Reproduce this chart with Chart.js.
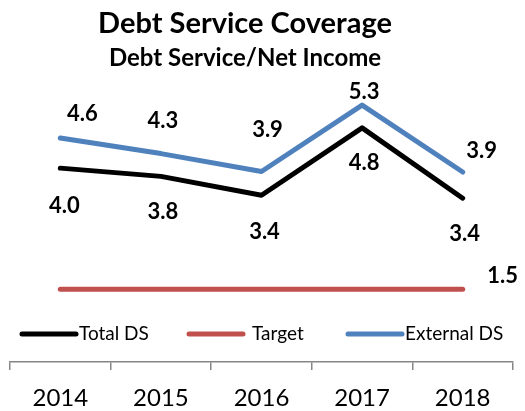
<!DOCTYPE html>
<html>
<head>
<meta charset="utf-8">
<script src="https://cdn.jsdelivr.net/npm/chart.js@4.4.1/dist/chart.umd.min.js"></script>
<style>
  html, body { margin: 0; padding: 0; background: #fff; }
  #wrap { width: 525px; height: 411px; }
</style>
</head>
<body>
<div id="wrap"><canvas id="chart"></canvas></div>
<script>
const years = ["2014", "2015", "2016", "2017", "2018"];
const totalDS = [4.0, 3.83, 3.44, 4.83, 3.38];
const targetDS = [1.5, 1.5, 1.5, 1.5, 1.5];
const externalDS = [4.62, 4.3, 3.93, 5.3, 3.92];

const chartTitle = "Debt Service Coverage";
const chartSubtitle = "Debt Service/Net Income";

const FONT = "Lato, 'Open Sans', sans-serif";

// label offsets relative to each point (px), per dataset; null = no label
const labelOffsets = [
  [[4, 38], [2, 36], [3, 37], [2, 35], [2, 36]],
  [null, null, null, null, [40, -13]],
  [[22, -24], [2, -33], [6, -42], [2, -13], [19, -21]],
];
// legend entries: x of line start
const legendX = [22, 189, 348];

// title block is drawn by hand so it can sit a bit left of centre like the original
const titles = {
  id: "titles",
  afterDraw(chart) {
    const ctx = chart.ctx;
    ctx.save();
    ctx.fillStyle = "#000";
    ctx.textAlign = "center";
    ctx.textBaseline = "middle";
    ctx.font = "bold 29px " + FONT;
    ctx.fillText(chartTitle, 245, 23.5);
    ctx.font = "bold 24px " + FONT;
    ctx.fillText(chartSubtitle, 245, 58);
    ctx.restore();
  },
};

const dataLabels = {
  id: "dataLabels",
  afterDatasetsDraw(chart) {
    const ctx = chart.ctx;
    ctx.save();
    ctx.font = "bold 22px " + FONT;
    ctx.fillStyle = "#000";
    ctx.textAlign = "center";
    ctx.textBaseline = "middle";
    chart.data.datasets.forEach((ds, i) => {
      chart.getDatasetMeta(i).data.forEach((pt, j) => {
        const off = labelOffsets[i][j];
        if (!off) return;
        ctx.fillText(ds.data[j].toFixed(1), pt.x + off[0], pt.y + off[1]);
      });
    });
    ctx.restore();
  },
};

const lineLegend = {
  id: "lineLegend",
  afterDraw(chart) {
    const ctx = chart.ctx;
    const y = 334;
    ctx.save();
    ctx.font = "19px " + FONT;
    ctx.textBaseline = "middle";
    ctx.fillStyle = "#000";
    chart.data.datasets.forEach((ds, i) => {
      const x = legendX[i];
      ctx.strokeStyle = ds.borderColor;
      ctx.lineWidth = 5;
      ctx.lineCap = "round";
      ctx.beginPath();
      ctx.moveTo(x, y);
      ctx.lineTo(x + 54, y);
      ctx.stroke();
      ctx.fillText(ds.label, x + 57 + (i === 1 ? 6 : 0), y);
    });
    ctx.restore();
  },
};

const lineStyle = { borderWidth: 5, pointRadius: 0, tension: 0, borderCapStyle: "round", borderJoinStyle: "round" };

new Chart(document.getElementById("chart"), {
  type: "line",
  data: {
    labels: years,
    datasets: [
      { label: "Total DS", data: totalDS, borderColor: "#000000", ...lineStyle },
      { label: "Target", data: targetDS, borderColor: "#C0504D", ...lineStyle },
      { label: "External DS", data: externalDS, borderColor: "#4F81BD", ...lineStyle },
    ],
  },
  options: {
    responsive: true,
    maintainAspectRatio: false,
    animation: false,
    layout: { padding: { top: 71.2, left: 10, right: 12, bottom: 0 } },
    plugins: {
      legend: { display: false },
      tooltip: { enabled: false },
      title: { display: false },
    },
    scales: {
      y: { display: false, min: 0, max: 6 },
      x: {
        offset: true,
        grid: { offset: true, drawOnChartArea: false, tickLength: 8, color: "#868686", lineWidth: 1.5 },
        border: { color: "#868686", width: 1.5 },
        ticks: { color: "#000", padding: 16, font: { family: FONT, size: 24, lineHeight: 1 } },
        afterFit(scale) { scale.height = 49; },
      },
    },
  },
  plugins: [dataLabels, lineLegend, titles],
});
</script>
</body>
</html>
